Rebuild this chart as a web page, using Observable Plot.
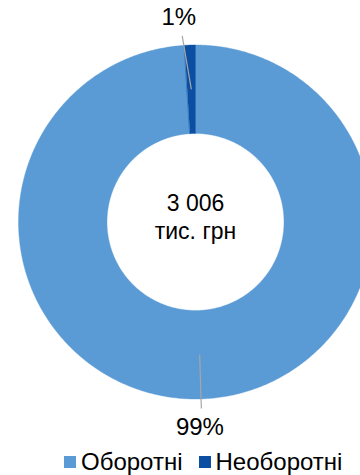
<!DOCTYPE html>
<html>
<head>
<meta charset="utf-8">
<script src="https://cdn.jsdelivr.net/npm/d3@7"></script>
<script src="https://cdn.jsdelivr.net/npm/@observablehq/plot@0.6"></script>
<style>
  html, body { margin: 0; padding: 0; background: #fff; }
  body { width: 360px; height: 475px; overflow: hidden; font-family: "Liberation Sans", Arial, sans-serif; }
  #legend { display: flex; align-items: center; height: 27px; line-height: 27px; padding-left: 64px; font-size: 24px; color: #000; white-space: nowrap; }
  #legend .item { display: flex; align-items: center; }
  #legend .sw { width: 12px; height: 12px; margin-right: 5px; }
</style>
</head>
<body>
<div id="chart"></div>
<div id="legend"></div>
<script>
const categories = ["Оборотні", "Необоротні"];
const values = [2976, 30];
const colors = ["#5B9BD5", "#0B4EA2"];
const unit = "тис. грн";

const total = d3.sum(values);
const fmt = d3.formatLocale({thousands: " ", grouping: [3], decimal: ",", currency: ["", ""]}).format(",");

const arcs = d3.pie().sort(null).value(d => d)(values);
const inner = 0.5, outer = 1;

// ring polygons computed from the pie angles
const ring = [];
arcs.forEach((a, i) => {
  const n = Math.max(2, Math.ceil((a.endAngle - a.startAngle) / 0.01));
  for (let k = 0; k <= n; k++) {
    const t = a.startAngle + (a.endAngle - a.startAngle) * k / n;
    ring.push({cat: categories[i], x: outer * Math.sin(t), y: outer * Math.cos(t)});
  }
  for (let k = n; k >= 0; k--) {
    const t = a.startAngle + (a.endAngle - a.startAngle) * k / n;
    ring.push({cat: categories[i], x: inner * Math.sin(t), y: inner * Math.cos(t)});
  }
});

const labels = arcs.map((a, i) => {
  const share = values[i] / total;
  const mid = (a.startAngle + a.endAngle) / 2;
  const la = share < 0.05 ? mid - 0.04 : mid;
  const rm = (inner + outer) / 2;
  return {
    text: Math.round(share * 100) + "%",
    x1: rm * Math.sin(mid), y1: rm * Math.cos(mid),
    x2: 1.054 * Math.sin(la), y2: 1.054 * Math.cos(la),
    tx: 1.16 * Math.sin(la), ty: 1.16 * Math.cos(la)
  };
});

const plot = Plot.plot({
  width: 360,
  height: 448,
  margin: 0,
  x: {domain: [-1, 1], range: [18, 372], axis: null},
  y: {domain: [-1, 1], range: [398.5, 44.5], axis: null},
  color: {domain: categories, range: colors},
  style: {fontFamily: '"Liberation Sans", Arial, sans-serif', fontSize: "24px", background: "#fff"},
  marks: [
    Plot.line(ring, {x: "x", y: "y", z: "cat", fill: "cat", stroke: "cat", strokeWidth: 0.4, curve: "linear-closed"}),
    Plot.link(labels, {x1: "x1", y1: "y1", x2: "x2", y2: "y2", stroke: "#A6A6A6", strokeWidth: 1.2}),
    Plot.text(labels, {x: "tx", y: "ty", text: "text", fontSize: 24, fill: "#000", dx: -2}),
    Plot.text([{x: 0, y: 0, t: fmt(total) + "\n" + unit}], {x: "x", y: "y", text: "t", fontSize: 23, lineHeight: 1.22, fill: "#000", dy: -6})
  ]
});
document.getElementById("chart").appendChild(plot);

const legend = document.getElementById("legend");
categories.forEach((c, i) => {
  const item = document.createElement("span");
  item.className = "item";
  if (i < categories.length - 1) item.style.marginRight = "16px";
  const sw = document.createElement("span");
  sw.className = "sw";
  sw.style.background = colors[i];
  const tx = document.createElement("span");
  tx.textContent = c;
  item.appendChild(sw);
  item.appendChild(tx);
  legend.appendChild(item);
});
</script>
</body>
</html>
